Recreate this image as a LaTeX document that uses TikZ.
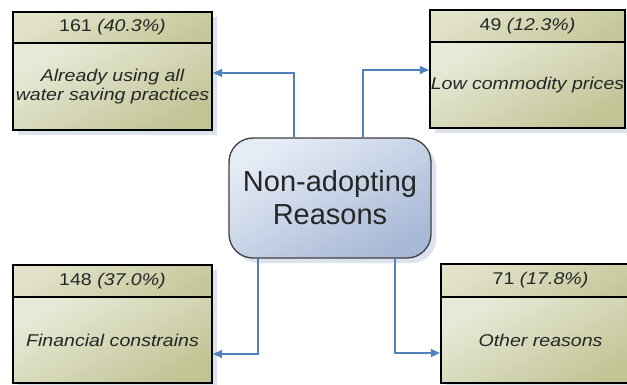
\documentclass[tikz,border=0pt]{standalone}
\usepackage{fontspec}
\setmainfont{Liberation Sans}
\newfontfamily\boxfont[FakeStretch=1.15]{Liberation Sans}
\usetikzlibrary{arrows.meta,shadows}
\definecolor{hdrL}{HTML}{E2E3CA}
\definecolor{hdrD}{HTML}{C6C89B}
\definecolor{bodyL}{HTML}{E8EAD9}
\definecolor{bodyD}{HTML}{C2C495}
\definecolor{ctrL}{HTML}{E6ECF6}
\definecolor{ctrD}{HTML}{A7B9D6}
\definecolor{ctrB}{HTML}{404040}
\definecolor{arrc}{HTML}{4F81BD}
\definecolor{shc}{HTML}{DCE3ED}
\definecolor{txt}{HTML}{262626}
\begin{document}
\begin{tikzpicture}[x=1pt,y=-1pt,
  boxshadow/.style={drop shadow={shadow xshift=5pt,shadow yshift=-5pt,fill=shc,opacity=1}},
  hdr/.style={boxshadow,draw=black,line width=2.2pt,top color=hdrL,bottom color=hdrD,shading angle=30,
    inner sep=0pt,text=txt,font=\boxfont\fontsize{17}{18.5}\selectfont},
  bodybox/.style={boxshadow,draw=black,line width=2.2pt,top color=bodyL,bottom color=bodyD,shading angle=30,
    inner sep=0pt,text=txt,align=center,font=\boxfont\fontsize{17}{18.5}\selectfont\itshape},
  ctrbox/.style={boxshadow,draw=ctrB,line width=1.3pt,rounded corners=24pt,top color=ctrL,bottom color=ctrD,
    shading angle=30,inner sep=0pt,text=txt,align=center,font=\fontsize{29}{33}\selectfont},
  arr/.style={draw=arrc,line width=1.3pt,-{Triangle[length=9pt,width=8pt]}}
]
\clip (0,0) rectangle (627,385);
\fill[white] (0,0) rectangle (627,385);
% top left
\node[hdr,minimum width=199pt,minimum height=31pt] (tlh) at (112.5,27.5) {161 \textit{(40.3\%)}};
\node[bodybox,minimum width=199pt,minimum height=87pt] (tlb) at (112.5,86.5) {Already using all\\water saving practices};
% top right
\node[hdr,minimum width=195pt,minimum height=32pt] (trh) at (527.5,26) {49 \textit{(12.3\%)}};
\node[bodybox,minimum width=195pt,minimum height=86pt] (trb) at (527.5,85) {Low commodity prices};
% bottom left
\node[hdr,minimum width=199pt,minimum height=32pt] (blh) at (112.5,281) {148 \textit{(37.0\%)}};
\node[bodybox,minimum width=199pt,minimum height=86pt] (blb) at (112.5,340) {Financial constrains};
% bottom right
\node[hdr,minimum width=199pt,minimum height=33pt] (brh) at (540.5,280.5) {71 \textit{(17.8\%)}};
\node[bodybox,minimum width=199pt,minimum height=86pt] (brb) at (540.5,340) {Other reasons};
% center
\node[ctrbox,minimum width=202pt,minimum height=120pt] (ctr) at (330,198) {Non-adopting\\Reasons};
% connectors
\draw[arr] ([xshift=-36pt]ctr.north) |- ([yshift=13.5pt]tlb.east);
\draw[arr] ([xshift=33pt]ctr.north) |- ([yshift=15pt]trb.west);
\draw[arr] ([xshift=-72pt]ctr.south) |- ([yshift=-14pt]blb.east);
\draw[arr] ([xshift=65pt]ctr.south) |- ([yshift=-13pt]brb.west);
\end{tikzpicture}
\end{document}
